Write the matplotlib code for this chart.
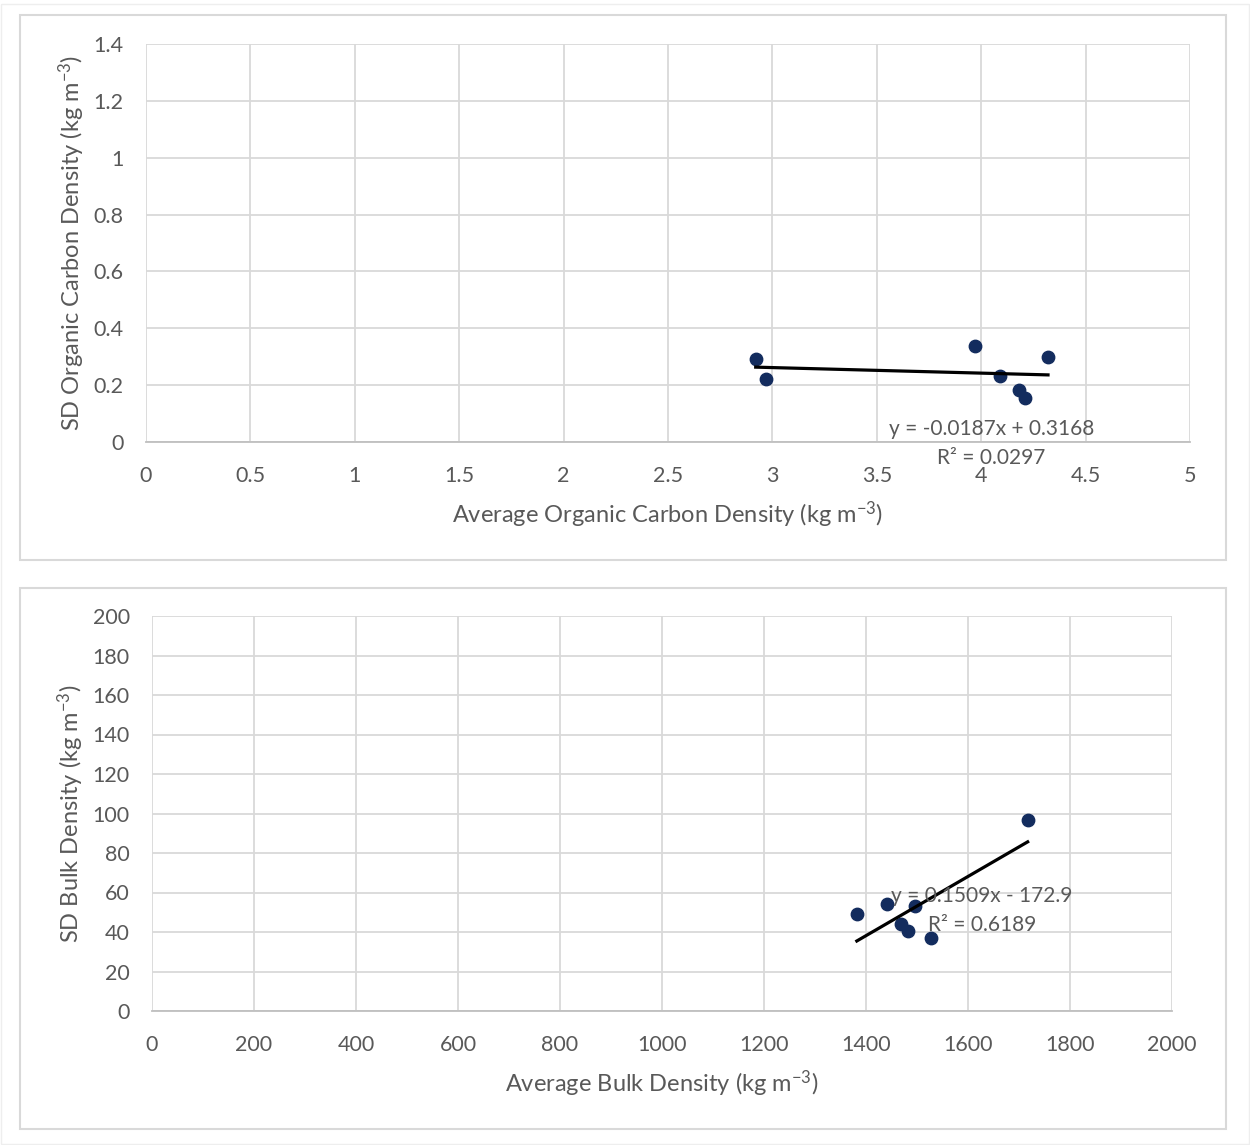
import numpy as np
import matplotlib
matplotlib.use('Agg')
from matplotlib import pyplot as plt
from matplotlib.patches import Rectangle

plt.rcParams['font.family'] = ['Lato', 'DejaVu Sans']
plt.rcParams['mathtext.fontset'] = 'custom'
plt.rcParams['mathtext.rm'] = 'Lato'
plt.rcParams['mathtext.it'] = 'Lato:italic'

# organic carbon density (kg m-3)
oc_avg = [2.92, 2.97, 3.97, 4.09, 4.18, 4.21, 4.32]
oc_sd = [0.291, 0.223, 0.337, 0.233, 0.183, 0.156, 0.299]
oc_eq = 'y = -0.0187x + 0.3168\nR² = 0.0297'

# bulk density (kg m-3)
bd_avg = [1382, 1442, 1469, 1482, 1497, 1527, 1717]
bd_sd = [49.0, 54.2, 44.1, 40.3, 53.2, 36.8, 96.7]
bd_eq = 'y = 0.1509x - 172.9\nR² = 0.6189'

W, H = 1250, 1145
fig = plt.figure(figsize=(W / 100, H / 100), dpi=100)

txt = '#595959'
grid = '#d9d9d9'
navy = '#132c5e'

def fbox(x0, y0, x1, y1, color='#d9d9d9', lw=1.5):
    fig.patches.append(Rectangle((x0 / W, 1 - y1 / H), (x1 - x0) / W, (y1 - y0) / H,
                                 transform=fig.transFigure, fill=False,
                                 edgecolor=color, lw=lw))

fbox(1, 4, 1249, 1144, color='#eeeeee', lw=1)
fbox(20, 15, 1226, 560)
fbox(20, 588, 1226, 1129)

def panel(px, xs, ys, xlim, xstep, ylim, ystep, xlab, ylab, eq, eqpos):
    x0, y0, x1, y1 = px
    ax = fig.add_axes([x0 / W, 1 - y1 / H, (x1 - x0) / W, (y1 - y0) / H])
    ax.set_xlim(*xlim)
    ax.set_ylim(*ylim)
    ax.set_xticks(np.arange(xlim[0], xlim[1] + xstep / 2, xstep))
    ax.set_yticks(np.arange(ylim[0], ylim[1] + ystep / 2, ystep))
    ax.xaxis.set_major_formatter(plt.FuncFormatter(lambda v, p: f'{v:g}'))
    ax.yaxis.set_major_formatter(plt.FuncFormatter(lambda v, p: f'{v:g}'))
    ax.grid(True, color=grid, lw=1.3)
    ax.set_axisbelow(True)
    for s in ['top', 'right', 'left']:
        ax.spines[s].set_visible(False)
    ax.spines['bottom'].set_color('#bfbfbf')
    ax.spines['bottom'].set_linewidth(1.3)
    ax.tick_params(length=0, labelsize=15.5, labelcolor=txt)
    ax.tick_params(axis='x', pad=17)
    ax.tick_params(axis='y', pad=16)
    ax.scatter(xs, ys, s=80, color=navy, zorder=3)
    k, b = np.polyfit(xs, ys, 1)
    xx = np.array([min(xs), max(xs)])
    ax.plot(xx, k * xx + b, color='black', lw=2.3, zorder=4)
    ax.text(eqpos[0], eqpos[1], eq, ha='center', va='center', fontsize=15,
            color=txt, linespacing=1.55, zorder=5, clip_on=False)
    ax.set_xlabel(xlab, fontsize=17, color=txt, labelpad=10)
    ax.set_ylabel(ylab, fontsize=17, color=txt, labelpad=5)
    return ax

panel((146, 44, 1190, 442), oc_avg, oc_sd, (0, 5), 0.5, (0, 1.4), 0.2,
      'Average Organic Carbon Density (kg m$^{-3}$)',
      'SD Organic Carbon Density (kg m$^{-3}$)', oc_eq, (4.05, -0.004))

panel((152, 616, 1172, 1011), bd_avg, bd_sd, (0, 2000), 200, (0, 200), 20,
      'Average Bulk Density (kg m$^{-3}$)',
      'SD Bulk Density (kg m$^{-3}$)', bd_eq, (1627, 51))

fig.savefig('out.png', dpi=100, facecolor='white')
